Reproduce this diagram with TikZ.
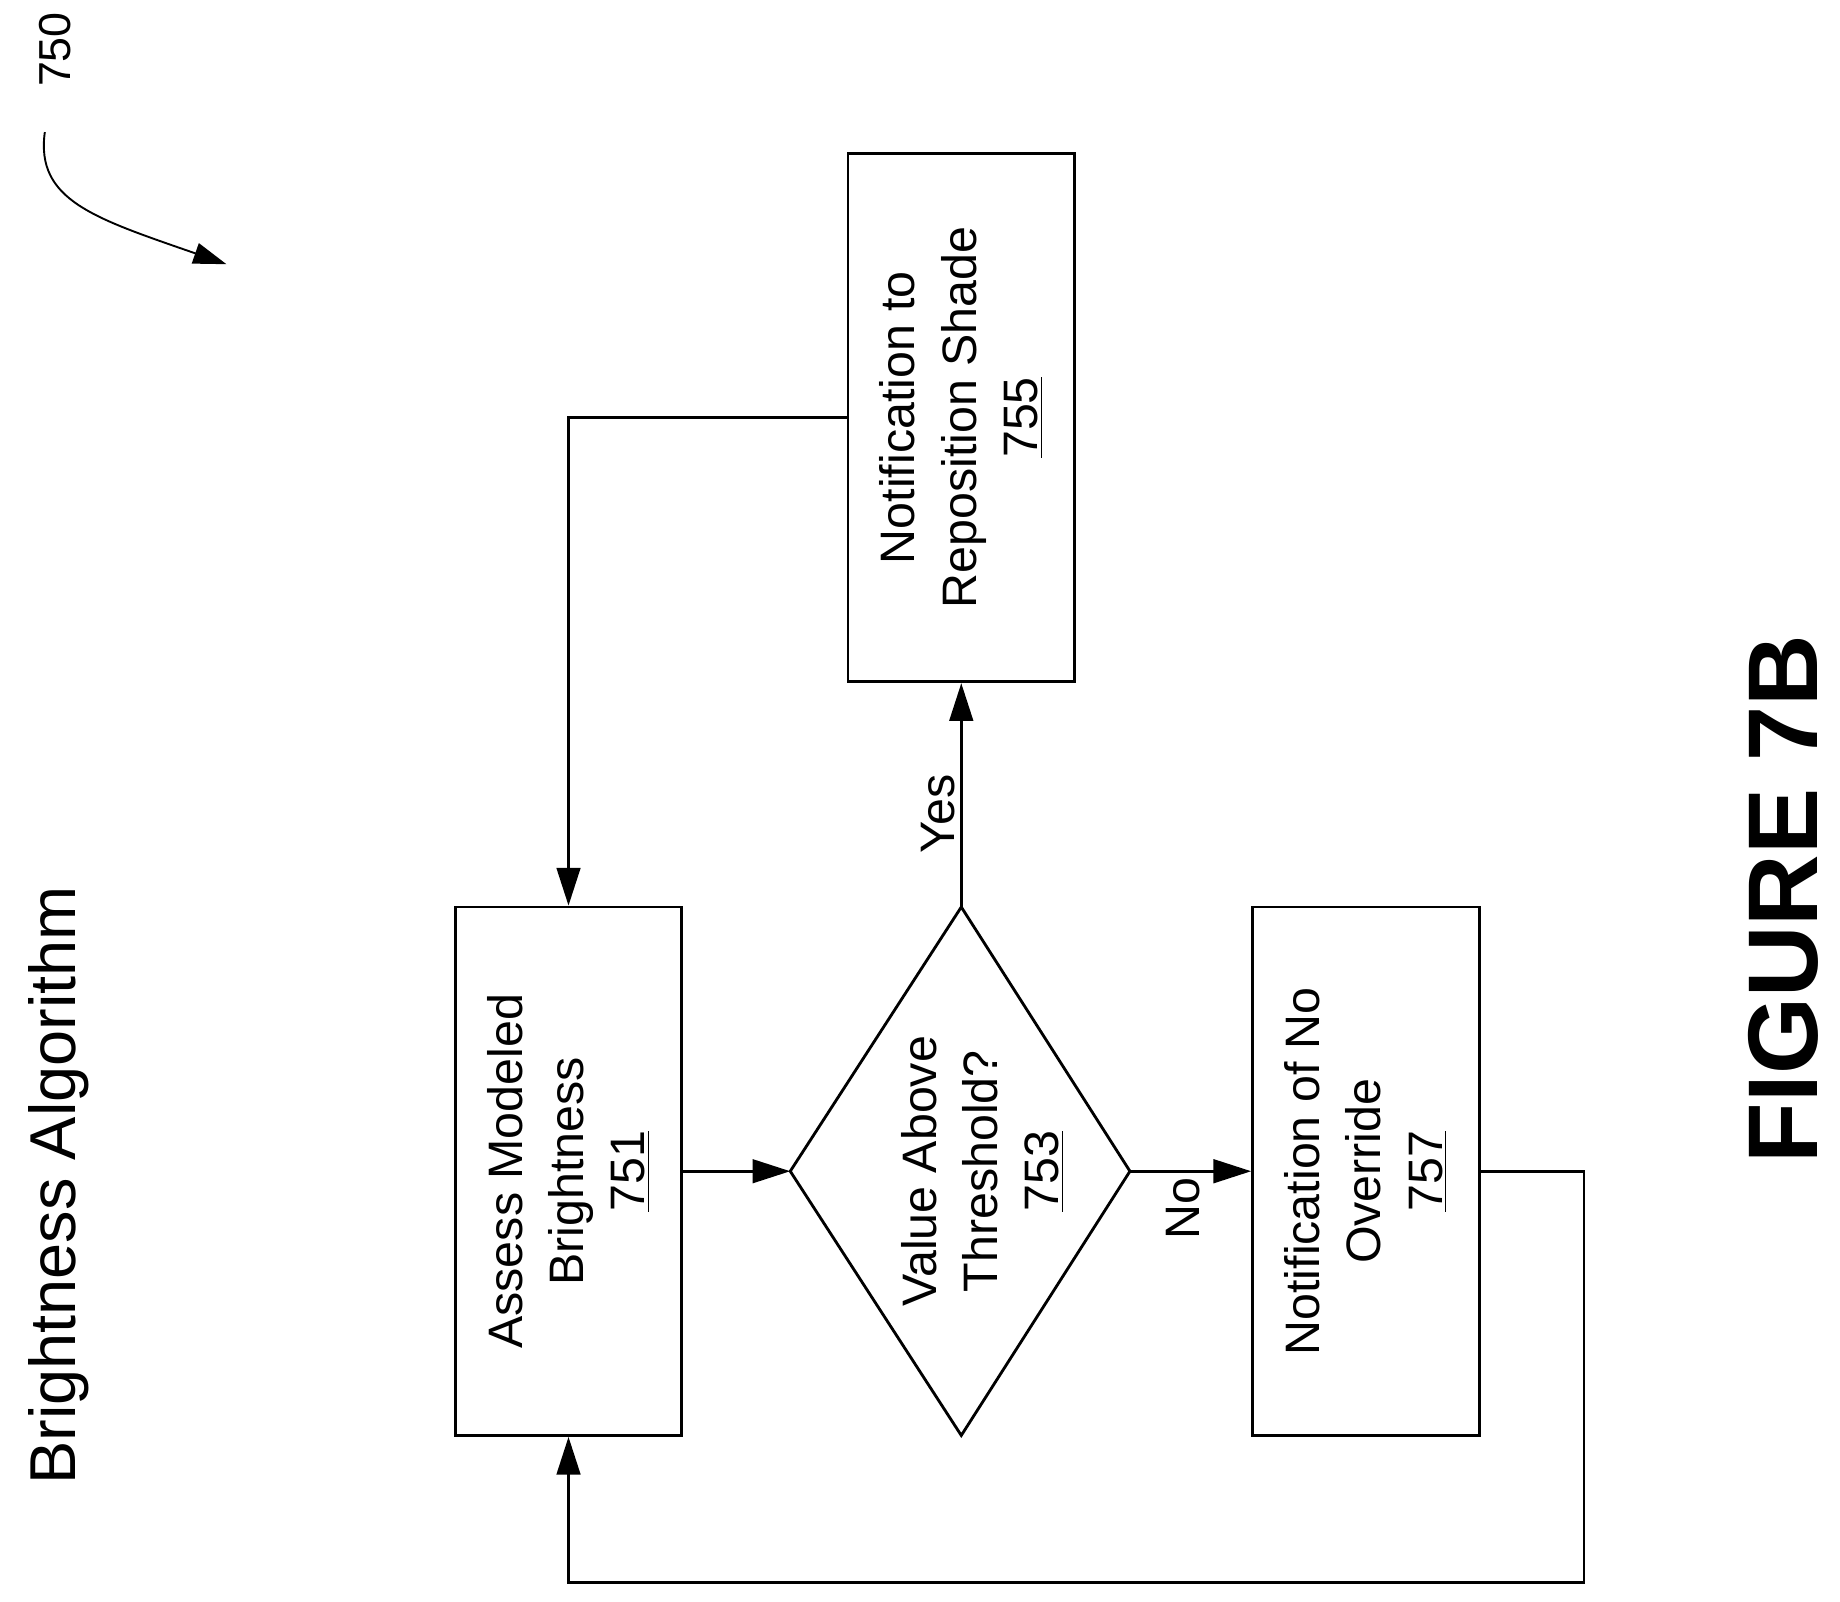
\documentclass[tikz,border=0pt]{standalone}
\usepackage{fontspec}
\setmainfont{Liberation Sans}
\usetikzlibrary{arrows.meta,shapes.geometric}
\begin{document}
\begin{tikzpicture}[x=0.5pt,y=-0.5pt,line width=1.2pt,
  box/.style={draw,minimum width=224pt,minimum height=96pt,rotate=90,align=center,font=\fontsize{20.5}{26}\selectfont},
  arr/.style={-{Triangle[length=16pt,width=10pt]}},
  lbl/.style={rotate=90,font=\fontsize{20.5}{26}\selectfont}]
\useasboundingbox (0,0) rectangle (1560,1358);
\node[box] (a) at (482,993) {Assess Modeled\\Brightness\\\underline{751}};
\coordinate (dt) at (815,769); \coordinate (dl) at (670,993); \coordinate (dr) at (958,993); \coordinate (db) at (815,1217);
\draw (dt) -- (dr) -- (db) -- (dl) -- cycle;
\node[lbl,align=center] (dtxt) at (833,993) {Value Above\\Threshold?\\\underline{753}};
\node[box] (n5) at (815,354) {Notification to\\Reposition Shade\\\underline{755}};
\node[box] (n7) at (1158,993) {Notification of No\\Override\\\underline{757}};
\draw[arr] (a.south) -- (dl);
\draw[arr] (dr) -- (n7.north);
\draw[arr] (dt) -- (n5.west);
\node[lbl] (yes) at (795,690) {Yes};
\node[lbl] (no) at (1003,1025) {No};
\coordinate (c1) at (482,354);
\draw[arr] (n5.north) -- (c1) -- (a.east);
\coordinate (c2) at (1343,993); \coordinate (c3) at (1343,1342); \coordinate (c4) at (482,1342);
\draw[arr] (n7.south) -- (c2) -- (c3) -- (c4) -- (a.west);
\node[rotate=90,font=\fontsize{27.5}{32}\selectfont] (title) at (50,1005) {Brightness Algorithm};
\node[rotate=90,font=\bfseries\fontsize{42}{50}\selectfont] (fig) at (1512,762) {FIGURE 7B};
\node[lbl,font=\fontsize{19}{24}\selectfont] (ref) at (47,42) {750};
\coordinate (rs) at (38,112);
\coordinate (re) at (192,224);
\draw[line width=0.8pt,-{Triangle[length=14pt,width=9pt]}] (rs) .. controls (30,170) and (80,185) .. (re);
\end{tikzpicture}
\end{document}
